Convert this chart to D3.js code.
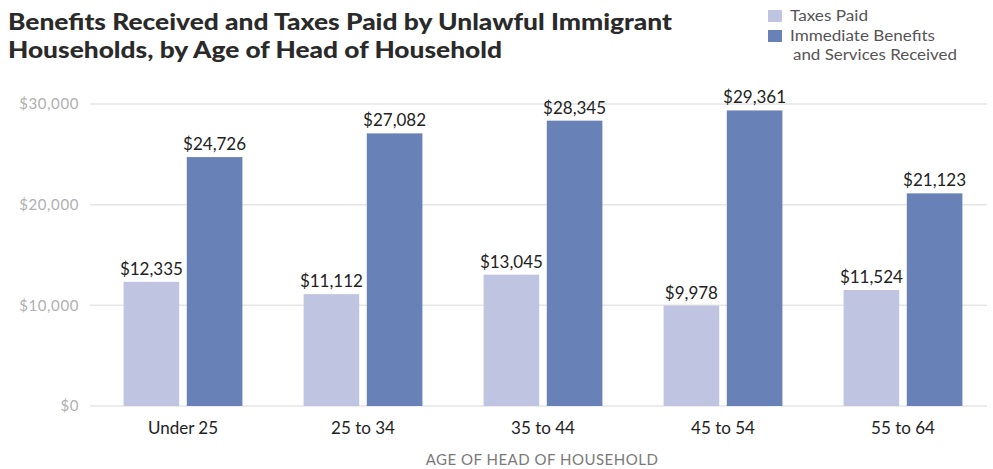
<!DOCTYPE html>
<html>
<head>
<meta charset="utf-8">
<script src="https://cdn.jsdelivr.net/npm/d3@7"></script>
<style>
  body { margin: 0; background: #fff; }
  svg { font-family: Lato, "Open Sans", sans-serif; }
</style>
</head>
<body>
<svg id="chart" width="993" height="469"></svg>
<script>
// DATA
const ageGroups = ["Under 25", "25 to 34", "35 to 44", "45 to 54", "55 to 64"];
const seriesNames = ["Taxes Paid", "Immediate Benefits and Services Received"];
const taxesPaid = [12335, 11112, 13045, 9978, 11524];
const benefitsReceived = [24726, 27082, 28345, 29361, 21123];
const yTicks = [0, 10000, 20000, 30000];
const colors = ["#bfc5e1", "#6881b6"];

const rows = ageGroups.map((g, i) => ({ group: g, values: [taxesPaid[i], benefitsReceived[i]] }));

const svg = d3.select("#chart");

// SCALES
const x0 = d3.scaleBand()
    .domain(ageGroups)
    .range([93, 993])
    .paddingInner(0.34)
    .paddingOuter(0.17);

const x1 = d3.scaleBand()
    .domain([0, 1])
    .range([0, x0.bandwidth()])
    .paddingInner(0.12);

const y = d3.scaleLinear()
    .domain([0, 30000])
    .range([406, 104]);

// gridlines + y labels
svg.append("g")
    .selectAll("line")
    .data(yTicks)
    .join("line")
    .attr("x1", 90)
    .attr("x2", 987)
    .attr("y1", d => y(d))
    .attr("y2", d => y(d))
    .attr("stroke", "#e6e6e6")
    .attr("stroke-width", 1.5);

svg.append("g")
    .selectAll("text")
    .data(yTicks)
    .join("text")
    .attr("x", 79)
    .attr("y", d => y(d))
    .attr("dy", "0.35em")
    .attr("text-anchor", "end")
    .attr("font-size", 15)
    .attr("letter-spacing", 0.6)
    .attr("fill", "#b0b0b0")
    .text(d => "$" + d3.format(",")(d));

// BARS
const groups = svg.append("g")
    .selectAll("g")
    .data(rows)
    .join("g")
    .attr("transform", d => `translate(${x0(d.group)},0)`);

groups.selectAll("rect")
    .data(d => d.values.map((v, i) => ({ i, v })))
    .join("rect")
    .attr("x", d => x1(d.i))
    .attr("y", d => y(d.v))
    .attr("width", x1.bandwidth())
    .attr("height", d => y(0) - y(d.v))
    .attr("fill", d => colors[d.i]);

groups.selectAll("text")
    .data(d => d.values.map((v, i) => ({ i, v })))
    .join("text")
    .attr("x", d => x1(d.i) + x1.bandwidth() / 2)
    .attr("y", d => y(d.v) - 7)
    .attr("text-anchor", "middle")
    .attr("font-size", 17)
    .attr("fill", "#222")
    .text(d => "$" + d3.format(",")(d.v));

// x axis labels
svg.append("g")
    .selectAll("text")
    .data(ageGroups)
    .join("text")
    .attr("x", d => x0(d) + x0.bandwidth() / 2)
    .attr("y", 428)
    .attr("dy", "0.35em")
    .attr("text-anchor", "middle")
    .attr("font-size", 17)
    .attr("fill", "#222")
    .text(d => d);

svg.append("text")
    .attr("x", 542)
    .attr("y", 460)
    .attr("dy", "0.35em")
    .attr("text-anchor", "middle")
    .attr("font-size", 15)
    .attr("letter-spacing", 0.5)
    .attr("fill", "#7a7a7a")
    .text("AGE OF HEAD OF HOUSEHOLD");

// TITLE (reference type is set wide, so stretch to the measured line widths)
const title = svg.append("text")
    .attr("font-size", 23)
    .attr("font-weight", 900)
    .attr("fill", "#2a2a2a");
title.append("tspan").attr("x", 8).attr("y", 30)
    .attr("textLength", 664).attr("lengthAdjust", "spacingAndGlyphs")
    .text("Benefits Received and Taxes Paid by Unlawful Immigrant");
title.append("tspan").attr("x", 8).attr("y", 58)
    .attr("textLength", 494).attr("lengthAdjust", "spacingAndGlyphs")
    .text("Households, by Age of Head of Household");

// LEGEND
const legend = svg.append("g").attr("transform", "translate(768,0)");
legend.append("rect").attr("x", 0).attr("y", 10).attr("width", 14).attr("height", 12).attr("fill", colors[0]);
legend.append("rect").attr("x", 0).attr("y", 30).attr("width", 14).attr("height", 12).attr("fill", colors[1]);
const legendLines = [
    { text: seriesNames[0], x: 22, y: 21, w: 78 },
    { text: "Immediate Benefits", x: 22, y: 41, w: 145 },
    { text: "and Services Received", x: 25, y: 60, w: 164 }
];
legend.selectAll("text.lg")
    .data(legendLines)
    .join("text")
    .attr("class", "lg")
    .attr("x", d => d.x)
    .attr("y", d => d.y)
    .attr("font-size", 15.5)
    .attr("fill", "#555")
    .attr("textLength", d => d.w)
    .attr("lengthAdjust", "spacingAndGlyphs")
    .text(d => d.text);
</script>
</body>
</html>
